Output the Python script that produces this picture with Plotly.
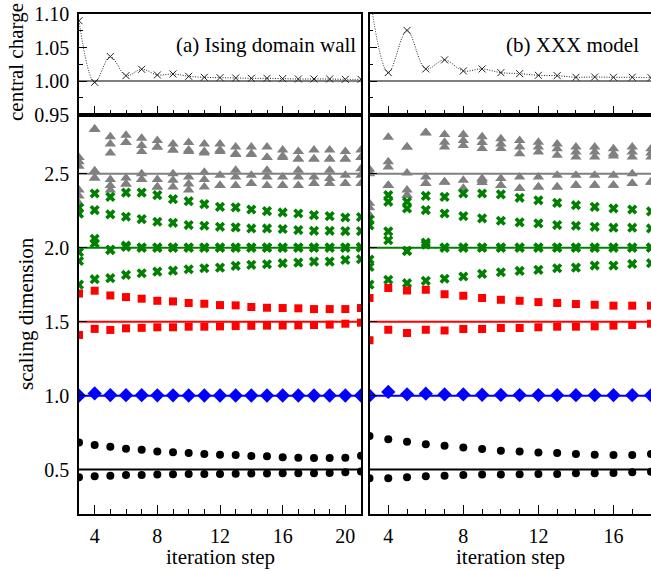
import plotly.graph_objects as go

# ---------------- data ----------------
steps_a = [3, 4, 5, 6, 7, 8, 9, 10, 11, 12, 13, 14, 15, 16, 17, 18, 19, 20, 21]
steps_b = [3, 4, 5, 6, 7, 8, 9, 10, 11, 12, 13, 14, 15, 16, 17, 18]

exact_dims = [0.5, 1.0, 1.5, 2.0, 2.5]
exact_c = 1.0

# central charge
c_a = [1.09, 0.998, 1.0365, 1.008, 1.0175, 1.009, 1.0105, 1.007, 1.0055, 1.005,
       1.0045, 1.004, 1.004, 1.0035, 1.003, 1.003, 1.003, 1.0025, 1.0025]
c_b = [1.13, 1.0125, 1.0755, 1.018, 1.0315, 1.015, 1.018, 1.0125, 1.011, 1.0085,
       1.008, 1.0055, 1.006, 1.0055, 1.0055, 1.005]

# (a) Ising domain wall scaling dimensions
gray_a = [
    [2.61, 2.80, 2.75, 2.76, 2.74, 2.725, 2.70, 2.71, 2.70, 2.70, 2.68, 2.68, 2.68, 2.66, 2.65, 2.66, 2.66, 2.65, 2.66],
    [2.58, 2.80, 2.70, 2.71, 2.69, 2.68, 2.66, 2.66, 2.65, 2.66, 2.635, 2.635, 2.61, 2.62, 2.60, 2.60, 2.60, 2.60, 2.61],
    [2.55, 2.80, 2.64, 2.71, 2.65, 2.68, 2.66, 2.65, 2.64, 2.65, 2.63, 2.63, 2.61, 2.61, 2.60, 2.60, 2.60, 2.60, 2.61],
    [2.39, 2.52, 2.46, 2.47, 2.50, 2.46, 2.50, 2.478, 2.51, 2.49, 2.523, 2.49, 2.523, 2.478, 2.523, 2.478, 2.523, 2.49, 2.534],
    [2.35, 2.47, 2.42, 2.43, 2.46, 2.41, 2.456, 2.43, 2.46, 2.42, 2.478, 2.433, 2.478, 2.42, 2.478, 2.433, 2.467, 2.433, 2.49],
    [2.30, 2.47, 2.39, 2.43, 2.46, 2.41, 2.41, 2.39, 2.41, 2.42, 2.42, 2.433, 2.42, 2.42, 2.42, 2.433, 2.433, 2.433, 2.433],
]
green_a = [
    [2.27, 2.366, 2.343, 2.372, 2.372, 2.355, 2.328, 2.314, 2.294, 2.276, 2.272, 2.258, 2.247, 2.238, 2.231, 2.22, 2.213, 2.204, 2.207],
    [2.23, 2.254, 2.225, 2.209, 2.193, 2.175, 2.168, 2.153, 2.148, 2.141, 2.137, 2.13, 2.13, 2.126, 2.119, 2.114, 2.114, 2.112, 2.112],
    [1.97, 2.06, 1.985, 2.014, 2.0, 2.0, 2.0, 2.0, 2.0, 2.0, 2.0, 2.0, 2.0, 2.0, 2.0, 2.0, 2.0, 2.0, 2.005],
    [1.91, 2.03, 1.985, 2.005, 2.0, 2.0, 2.0, 2.0, 2.0, 2.0, 2.0, 2.0, 2.0, 2.0, 2.0, 2.0, 2.0, 2.0, 2.0],
    [1.75, 1.787, 1.794, 1.816, 1.827, 1.838, 1.845, 1.854, 1.861, 1.865, 1.877, 1.884, 1.888, 1.895, 1.899, 1.906, 1.906, 1.917, 1.922],
]
red_a = [
    [1.69, 1.709, 1.677, 1.666, 1.655, 1.641, 1.637, 1.626, 1.621, 1.612, 1.61, 1.599, 1.594, 1.592, 1.59, 1.585, 1.585, 1.585, 1.592],
    [1.41, 1.451, 1.444, 1.455, 1.458, 1.462, 1.462, 1.466, 1.466, 1.468, 1.47, 1.472, 1.473, 1.474, 1.475, 1.477, 1.48, 1.486, 1.493],
]
blue_a = [
    [1.0, 1.015, 1.004, 1.003, 1.003, 1.002, 1.002, 1.001, 1.001, 1.001, 1.001, 1.001, 1.001, 1.001, 1.001, 1.001, 1.001, 1.001, 1.001],
]
black_a = [
    [0.684, 0.666, 0.654, 0.641, 0.634, 0.623, 0.618, 0.612, 0.605, 0.60, 0.598, 0.592, 0.59, 0.583, 0.581, 0.579, 0.579, 0.581, 0.594],
    [0.448, 0.455, 0.459, 0.464, 0.464, 0.467, 0.469, 0.47, 0.47, 0.471, 0.472, 0.473, 0.474, 0.475, 0.476, 0.476, 0.477, 0.482, 0.488],
]

# (b) XXX model scaling dimensions
gray_b = [
    [2.53, 2.747, 2.68, 2.776, 2.765, 2.765, 2.75, 2.736, 2.725, 2.713, 2.70, 2.68, 2.68, 2.669, 2.68, 2.669],
    [2.51, 2.58, 2.68, 2.776, 2.713, 2.725, 2.71, 2.70, 2.68, 2.68, 2.669, 2.646, 2.646, 2.635, 2.646, 2.64],
    [2.50, 2.545, 2.505, 2.776, 2.68, 2.69, 2.67, 2.67, 2.635, 2.646, 2.624, 2.612, 2.612, 2.62, 2.612, 2.612],
    [2.30, 2.42, 2.39, 2.478, 2.444, 2.456, 2.467, 2.467, 2.478, 2.478, 2.49, 2.49, 2.49, 2.49, 2.50, 2.444],
    [2.27, 2.42, 2.355, 2.433, 2.444, 2.40, 2.456, 2.42, 2.40, 2.41, 2.41, 2.422, 2.422, 2.422, 2.433, 2.444],
    [2.22, 2.42, 2.355, 2.433, 2.444, 2.40, 2.44, 2.42, 2.40, 2.41, 2.41, 2.422, 2.422, 2.422, 2.433, 2.444],
]
green_b = [
    [2.19, 2.355, 2.31, 2.35, 2.343, 2.366, 2.366, 2.36, 2.337, 2.32, 2.303, 2.287, 2.276, 2.265, 2.258, 2.245],
    [2.15, 2.31, 2.265, 2.254, 2.231, 2.213, 2.198, 2.182, 2.171, 2.164, 2.153, 2.148, 2.141, 2.135, 2.135, 2.13],
    [1.92, 2.11, 1.978, 2.035, 2.0, 2.0, 2.0, 2.0, 2.0, 2.0, 2.0, 2.0, 2.0, 2.0, 2.0, 2.0],
    [1.87, 2.05, 1.978, 2.02, 2.0, 2.0, 2.0, 2.0, 2.0, 2.0, 2.0, 2.0, 2.0, 2.0, 2.0, 2.0],
    [1.75, 1.783, 1.76, 1.776, 1.79, 1.805, 1.823, 1.834, 1.843, 1.85, 1.861, 1.865, 1.879, 1.879, 1.89, 1.895],
]
red_b = [
    [1.66, 1.727, 1.71, 1.715, 1.686, 1.675, 1.66, 1.648, 1.641, 1.632, 1.626, 1.619, 1.614, 1.608, 1.608, 1.608],
    [1.374, 1.446, 1.424, 1.446, 1.441, 1.451, 1.451, 1.457, 1.457, 1.462, 1.466, 1.466, 1.468, 1.473, 1.477, 1.486],
]
blue_b = [
    [1.0, 1.025, 1.009, 1.013, 1.008, 1.008, 1.006, 1.005, 1.004, 1.004, 1.003, 1.003, 1.003, 1.003, 1.003, 1.002],
]
black_b = [
    [0.728, 0.706, 0.688, 0.672, 0.661, 0.65, 0.639, 0.627, 0.623, 0.616, 0.612, 0.605, 0.60, 0.598, 0.598, 0.605],
    [0.441, 0.441, 0.448, 0.455, 0.459, 0.464, 0.467, 0.467, 0.469, 0.471, 0.471, 0.475, 0.476, 0.477, 0.482, 0.485],
]

x_ticks_major = [4, 8, 12, 16, 20]
dim_ticks = [0.5, 1.0, 1.5, 2.0, 2.5]
c_ticks = [0.95, 1.00, 1.05, 1.10]

panel_titles = ["(a) Ising domain wall", "(b) XXX model"]

# ---------------- styling / layout ----------------
W, H = 651, 571
FONT = "Liberation Serif, Times New Roman, serif"
FS = 20
FS_T = 21

def px_x(p):
    return p / W

def px_y(p):
    return (H - p) / H

dom_xa = [px_x(79), px_x(361)]
dom_xb = [px_x(369.5), 1.0]
dom_top = [px_y(114.5), px_y(14)]
dom_low = [px_y(514), px_y(114.5)]

dim_colors = ["black", "blue", "red", "green", "gray"]
COL = {"gray": "#808080", "green": "#008000", "red": "#ff0000", "blue": "#0000ff", "black": "#000000"}

fig = go.Figure()

def add_group(steps, groups, symbol, color, size, xa, ya):
    for s in groups:
        fig.add_trace(go.Scatter(
            x=steps, y=s, mode="markers", xaxis=xa, yaxis=ya,
            marker=dict(symbol=symbol, color=color, size=size, line=dict(width=0)),
            showlegend=False, hoverinfo="skip"))

for steps, cc, xa_top, ya_top in [(steps_a, c_a, "x2", "y2"), (steps_b, c_b, "x4", "y4")]:
    fig.add_trace(go.Scatter(
        x=steps, y=cc, mode="lines+markers", xaxis=xa_top, yaxis=ya_top,
        line=dict(shape="spline", dash="1px,1.5px", width=1, color="#222222"),
        marker=dict(symbol="x-thin", size=7, line=dict(width=1, color="#222222")),
        showlegend=False, hoverinfo="skip"))

for steps, (gr, gn, rd, bl, bk), xa, ya in [
        (steps_a, (gray_a, green_a, red_a, blue_a, black_a), "x", "y"),
        (steps_b, (gray_b, green_b, red_b, blue_b, black_b), "x3", "y3")]:
    add_group(steps, gr, "triangle-up", COL["gray"], 10, xa, ya)
    add_group(steps, gn, "x", COL["green"], 9, xa, ya)
    add_group(steps, rd, "square", COL["red"], 8, xa, ya)
    add_group(steps, bl, "diamond", COL["blue"], 11, xa, ya)
    add_group(steps, bk, "circle", COL["black"], 8, xa, ya)

shapes = []
for xr, yr in [("x", "y"), ("x3", "y3")]:
    for v, cname in zip(exact_dims, dim_colors):
        shapes.append(dict(type="line", xref=f"{xr} domain", yref=yr, x0=0, x1=1, y0=v, y1=v,
                           line=dict(color=COL[cname], width=2), layer="below"))
for xr, yr in [("x2", "y2"), ("x4", "y4")]:
    shapes.append(dict(type="line", xref=f"{xr} domain", yref=yr, x0=0, x1=1, y0=exact_c, y1=exact_c,
                       line=dict(color="black", width=1), layer="below"))

tickfont = dict(family=FONT, size=FS, color="black")

def xaxis(domain, rng, anchor, labels):
    return dict(domain=domain, range=rng, anchor=anchor, tickvals=x_ticks_major,
                ticks="inside", ticklen=9, tickwidth=1, tickcolor="black",
                minor=dict(dtick=1, tick0=0, ticks="inside", ticklen=5, tickwidth=1, tickcolor="black"),
                showticklabels=labels, tickfont=tickfont, ticklabelstandoff=3,
                showline=True, linecolor="black", linewidth=1.5, mirror=True,
                showgrid=False, zeroline=False, automargin=False)

def yaxis(domain, rng, anchor, tv, fmt, labels, mirror, minor_dtick=None):
    d = dict(domain=domain, range=rng, anchor=anchor, tickvals=tv, tickformat=fmt,
             ticks="inside", ticklen=8, tickwidth=1, tickcolor="black",
             showticklabels=labels, tickfont=tickfont, ticklabelstandoff=4,
             showline=True, linecolor="black", linewidth=1.5, mirror=mirror,
             showgrid=False, zeroline=False, automargin=False)
    if minor_dtick:
        d["minor"] = dict(dtick=minor_dtick, tick0=0.95, ticks="inside", ticklen=4,
                          tickwidth=1, tickcolor="black")
    return d

tfont = dict(family=FONT, size=FS_T, color="black")
annotations = [
    dict(text=panel_titles[0], x=px_x(358), y=px_y(45), xref="paper", yref="paper",
         xanchor="right", yanchor="middle", showarrow=False, font=tfont),
    dict(text=panel_titles[1], x=px_x(641), y=px_y(45), xref="paper", yref="paper",
         xanchor="right", yanchor="middle", showarrow=False, font=tfont),
    dict(text="iteration step", x=px_x(220), y=px_y(557), xref="paper", yref="paper",
         xanchor="center", yanchor="middle", showarrow=False, font=tfont),
    dict(text="iteration step", x=px_x(510), y=px_y(557), xref="paper", yref="paper",
         xanchor="center", yanchor="middle", showarrow=False, font=tfont),
    dict(text="central charge", x=px_x(16), y=px_y(62), xref="paper", yref="paper", textangle=-90,
         xanchor="center", yanchor="middle", showarrow=False, font=tfont),
    dict(text="scaling dimension", x=px_x(26), y=px_y(314), xref="paper", yref="paper", textangle=-90,
         xanchor="center", yanchor="middle", showarrow=False, font=tfont),
]

fig.update_layout(
    width=W, height=H, margin=dict(l=0, r=0, t=0, b=0),
    paper_bgcolor="white", plot_bgcolor="white",
    font=dict(family=FONT, size=FS, color="black"),
    showlegend=False,
    xaxis=xaxis(dom_xa, [3, 21], "y", True),
    yaxis=yaxis(dom_low, [0.2, 2.9], "x", dim_ticks, ".1f", True, True),
    xaxis2=xaxis(dom_xa, [3, 21], "y2", False),
    yaxis2=yaxis(dom_top, [0.95, 1.10], "x2", c_ticks, ".2f", True, True, 0.025),
    xaxis3=xaxis(dom_xb, [3, 18], "y3", True),
    yaxis3=yaxis(dom_low, [0.2, 2.9], "x3", dim_ticks, ".1f", False, False),
    xaxis4=xaxis(dom_xb, [3, 18], "y4", False),
    yaxis4=yaxis(dom_top, [0.95, 1.10], "x4", c_ticks, ".2f", False, False, 0.025),
    shapes=shapes, annotations=annotations,
)

fig.write_html("out.html")
